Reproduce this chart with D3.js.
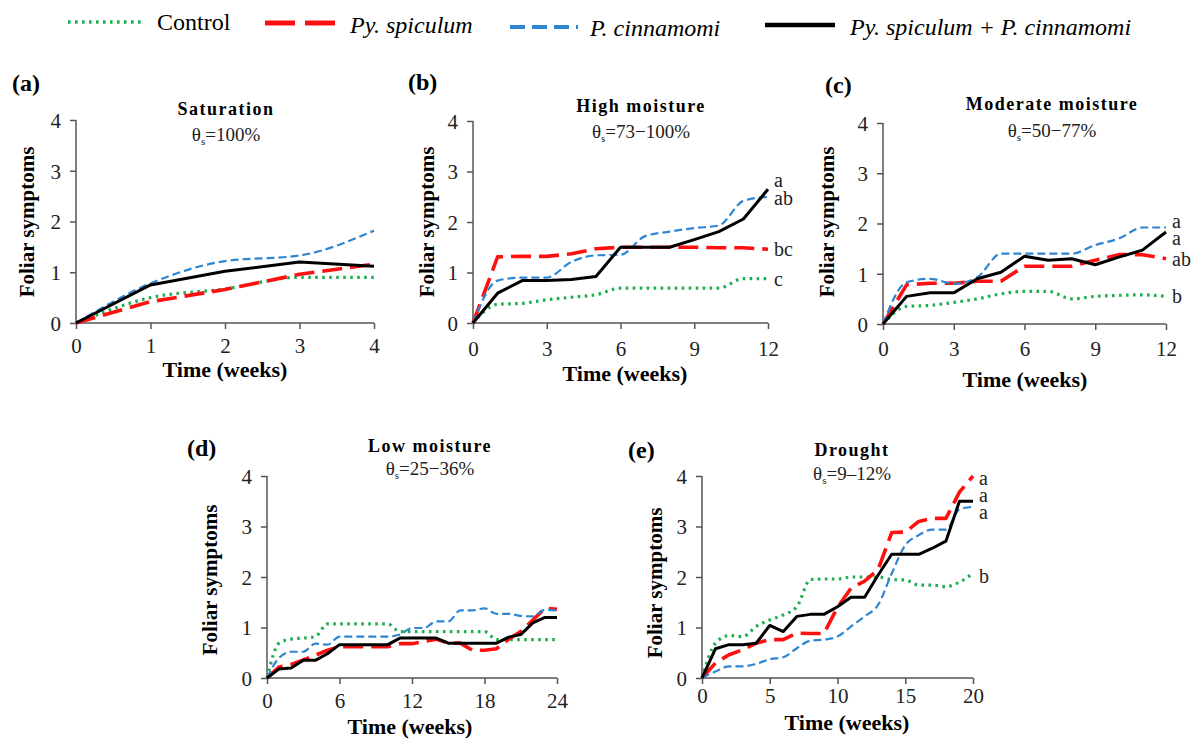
<!DOCTYPE html>
<html><head><meta charset="utf-8">
<script src="https://cdn.jsdelivr.net/npm/d3@7"></script>
<style>body{margin:0;background:#fff}</style>
</head><body>
<svg id="chart" width="1195" height="740"></svg>
<script>
// ---------- DATA ----------
const seriesNames = ["Control", "Py. spiculum", "P. cinnamomi", "Py. spiculum + P. cinnamomi"];
const yTicks = [0, 1, 2, 3, 4];

// (a) Saturation
const weeksA = [0, 1, 2, 3, 4];
const controlA   = [0, 0.50, 0.67, 0.90, 0.90];
const spiculumA  = [0, 0.42, 0.66, 0.96, 1.16];
const cinnamomiA = [0, 0.78, 1.22, 1.33, 1.82];
const comboA     = [0, 0.75, 1.02, 1.20, 1.12];
const xTicksA = [0, 1, 2, 3, 4];

// (b) High moisture
const weeksB = [0, 1, 2, 3, 4, 5, 6, 7, 8, 9, 10, 11, 12];
const controlB   = [0, 0.37, 0.39, 0.46, 0.51, 0.56, 0.69, 0.69, 0.69, 0.69, 0.69, 0.88, 0.88];
const spiculumB  = [0, 1.31, 1.32, 1.32, 1.37, 1.47, 1.50, 1.50, 1.50, 1.50, 1.49, 1.49, 1.46];
const cinnamomiB = [0, 0.84, 0.90, 0.90, 1.21, 1.34, 1.35, 1.72, 1.81, 1.88, 1.93, 2.42, 2.50];
const comboB     = [0, 0.59, 0.84, 0.84, 0.86, 0.92, 1.50, 1.50, 1.50, 1.65, 1.81, 2.06, 2.65];
const xTicksB = [0, 3, 6, 9, 12];
const lettersB = ["a", "ab", "bc", "c"];
const letterYB = [2.82, 2.46, 1.46, 0.85];

// (c) Moderate moisture
const weeksC = [0, 1, 2, 3, 4, 5, 6, 7, 8, 9, 10, 11, 12];
const controlC   = [0, 0.35, 0.37, 0.43, 0.50, 0.60, 0.65, 0.65, 0.50, 0.55, 0.57, 0.58, 0.55];
const spiculumC  = [0, 0.78, 0.81, 0.81, 0.85, 0.85, 1.15, 1.15, 1.15, 1.27, 1.38, 1.38, 1.30];
const cinnamomiC = [0, 0.83, 0.90, 0.80, 0.93, 1.40, 1.40, 1.40, 1.40, 1.57, 1.70, 1.92, 1.92];
const comboC     = [0, 0.55, 0.62, 0.62, 0.90, 1.03, 1.35, 1.27, 1.30, 1.18, 1.33, 1.47, 1.83];
const xTicksC = [0, 3, 6, 9, 12];
const lettersC = ["a", "a", "ab", "b"];
const letterYC = [2.03, 1.70, 1.28, 0.55];

// (d) Low moisture
const weeksD = [0, 1, 2, 3, 4, 5, 6, 7, 8, 9, 10, 11, 12, 13, 14, 15, 16, 17, 18, 19, 20, 21, 22, 23, 24];
const controlD   = [0, 0.69, 0.77, 0.79, 0.82, 1.07, 1.07, 1.07, 1.07, 1.07, 1.07, 0.92, 0.92, 0.92, 0.92, 0.92, 0.92, 0.92, 0.92, 0.76, 0.76, 0.76, 0.76, 0.76, 0.76];
const spiculumD  = [0, 0.22, 0.27, 0.36, 0.45, 0.55, 0.62, 0.62, 0.62, 0.62, 0.62, 0.68, 0.68, 0.72, 0.77, 0.69, 0.69, 0.55, 0.55, 0.58, 0.77, 0.92, 1.15, 1.38, 1.36];
const cinnamomiD = [0, 0.40, 0.52, 0.52, 0.68, 0.66, 0.82, 0.82, 0.82, 0.82, 0.82, 0.86, 0.99, 0.99, 1.12, 1.12, 1.34, 1.34, 1.38, 1.27, 1.27, 1.23, 1.22, 1.35, 1.34];
const comboD     = [0, 0.18, 0.20, 0.35, 0.35, 0.48, 0.66, 0.66, 0.66, 0.66, 0.66, 0.79, 0.79, 0.79, 0.79, 0.69, 0.69, 0.69, 0.69, 0.69, 0.81, 0.86, 1.09, 1.20, 1.20];
const xTicksD = [0, 6, 12, 18, 24];

// (e) Drought
const weeksE = [0, 1, 2, 3, 4, 5, 6, 7, 8, 9, 10, 11, 12, 13, 14, 15, 16, 17, 18, 19, 20];
const controlE   = [0, 0.69, 0.84, 0.82, 1.02, 1.15, 1.25, 1.41, 1.95, 1.96, 1.96, 2.00, 2.00, 2.00, 1.95, 1.94, 1.84, 1.84, 1.81, 1.90, 2.07];
const spiculumE  = [0, 0.30, 0.46, 0.56, 0.69, 0.76, 0.76, 0.89, 0.88, 0.88, 1.40, 1.78, 1.92, 2.15, 2.88, 2.89, 3.10, 3.16, 3.16, 3.68, 4.00];
const cinnamomiE = [0, 0.13, 0.23, 0.23, 0.28, 0.37, 0.41, 0.59, 0.74, 0.76, 0.82, 1.02, 1.22, 1.45, 2.07, 2.63, 2.83, 2.94, 2.94, 3.34, 3.39];
const comboE     = [0, 0.58, 0.66, 0.66, 0.69, 1.04, 0.92, 1.22, 1.26, 1.26, 1.41, 1.60, 1.60, 2.04, 2.45, 2.45, 2.45, 2.57, 2.71, 3.50, 3.50];
const xTicksE = [0, 5, 10, 15, 20];
const lettersE = ["a", "a", "a", "b"];
const letterYE = [3.94, 3.61, 3.27, 2.00];

// ---------- STYLES ----------
const styles = [
  {color: "#1fae4f", width: 3.2, dash: "2.6,4.4", curve: d3.curveMonotoneX, lw: 3.4, ldash: "2.6,4.4"},
  {color: "#ff1010", width: 3.6, dash: "20,8", curve: d3.curveLinear, lw: 5, ldash: "30,10"},
  {color: "#2e85d2", width: 2.2, dash: "8,4", curve: d3.curveMonotoneX, lw: 4, ldash: "15,7"},
  {color: "#000000", width: 3, dash: null, curve: d3.curveLinear, lw: 4.5, ldash: null}
];
const serif = "'Liberation Serif', 'Times New Roman', serif";
const axisColor = "#555";

const panels = [
  {lab: "(a)", weeks: weeksA, data: [controlA, spiculumA, cinnamomiA, comboA], xTicks: xTicksA,
   left: 76, right: 374, y0: 323, y4: 120, labX: 12, labY: 91,
   title: "Saturation", theta: "=100%", tX: 226, tY: 115, thY: 141,
   ylX: 27, ylY: 222, xlX: 225, xlY: 377, tickY: 353, letters: null},
  {lab: "(b)", weeks: weeksB, data: [controlB, spiculumB, cinnamomiB, comboB], xTicks: xTicksB,
   left: 473, right: 768, y0: 323, y4: 121, labX: 408, labY: 90,
   title: "High moisture", theta: "=73\u2212100%", tX: 641, tY: 112, thY: 138,
   ylX: 427, ylY: 222, xlX: 625, xlY: 381, tickY: 356, letters: lettersB, letterY: letterYB},
  {lab: "(c)", weeks: weeksC, data: [controlC, spiculumC, cinnamomiC, comboC], xTicks: xTicksC,
   left: 883, right: 1166, y0: 324, y4: 123, labX: 825, labY: 93,
   title: "Moderate moisture", theta: "=50\u221277%", tX: 1052, tY: 110, thY: 137,
   ylX: 827, ylY: 222, xlX: 1025, xlY: 387, tickY: 356, letters: lettersC, letterY: letterYC},
  {lab: "(d)", weeks: weeksD, data: [controlD, spiculumD, cinnamomiD, comboD], xTicks: xTicksD,
   left: 267, right: 557, y0: 678, y4: 476, labX: 187, labY: 456,
   title: "Low moisture", theta: "=25\u221236%", tX: 430, tY: 452, thY: 475,
   ylX: 210, ylY: 580, xlX: 410, xlY: 734, tickY: 708, letters: null},
  {lab: "(e)", weeks: weeksE, data: [controlE, spiculumE, cinnamomiE, comboE], xTicks: xTicksE,
   left: 702, right: 973, y0: 678, y4: 476, labX: 628, labY: 458,
   title: "Drought", theta: "=9\u201312%", tX: 852, tY: 456, thY: 480,
   ylX: 655, ylY: 583, xlX: 847, xlY: 730, tickY: 703, letters: lettersE, letterY: letterYE}
];

const svg = d3.select("#chart");
svg.append("rect").attr("width", 1195).attr("height", 740).attr("fill", "#fff");

// ---------- LEGEND ----------
const legendItems = [
  {x1: 68, x2: 143, y: 22, tx: 157, ty: 30, italic: false},
  {x1: 265, x2: 337, y: 23, tx: 350, ty: 33, italic: true},
  {x1: 510, x2: 578, y: 27, tx: 590, ty: 36, italic: true},
  {x1: 765, x2: 835, y: 25, tx: 850, ty: 35, italic: true}
];
legendItems.forEach((it, i) => {
  const s = styles[i];
  svg.append("line").attr("x1", it.x1).attr("x2", it.x2).attr("y1", it.y).attr("y2", it.y)
    .attr("stroke", s.color).attr("stroke-width", s.lw).attr("stroke-dasharray", s.ldash);
  svg.append("text").attr("x", it.tx).attr("y", it.ty).attr("font-family", serif)
    .attr("font-size", 24).attr("font-style", it.italic ? "italic" : "normal")
    .text(seriesNames[i]);
});

// ---------- PANELS ----------
panels.forEach(p => {
  const x = d3.scaleLinear().domain([p.weeks[0], p.weeks[p.weeks.length - 1]]).range([p.left, p.right]);
  const y = d3.scaleLinear().domain([0, 4]).range([p.y0, p.y4]);
  const g = svg.append("g");

  // axes
  const xAxis = g.append("g").attr("transform", `translate(0,${p.y0})`)
    .call(d3.axisBottom(x).tickValues(p.xTicks).tickSize(6).tickFormat(d3.format("d")));
  const yAxis = g.append("g").attr("transform", `translate(${p.left},0)`)
    .call(d3.axisLeft(y).tickValues(yTicks).tickSize(6).tickFormat(d3.format("d")));
  [xAxis, yAxis].forEach(a => {
    a.attr("font-family", serif).attr("font-size", 21);
    a.selectAll("path,line").attr("stroke", axisColor).attr("stroke-width", 1.5);
    a.select(".domain").attr("d", null);
    a.selectAll("text").attr("font-family", serif).attr("font-size", 21).attr("fill", "#222");
  });
  xAxis.append("line").attr("x1", p.left).attr("x2", p.right).attr("stroke", axisColor).attr("stroke-width", 1.5);
  yAxis.append("line").attr("y1", p.y0).attr("y2", p.y4).attr("stroke", axisColor).attr("stroke-width", 1.5);
  xAxis.selectAll(".tick text").attr("y", null).attr("dy", null)
    .attr("transform", `translate(0,${p.tickY - p.y0})`);
  yAxis.selectAll(".tick text").attr("x", -15).attr("dy", "0.35em");

  // lines
  p.data.forEach((vals, i) => {
    const s = styles[i];
    const line = d3.line().x((d, j) => x(p.weeks[j])).y(d => y(d)).curve(s.curve);
    g.append("path").datum(vals).attr("d", line).attr("fill", "none")
      .attr("stroke", s.color).attr("stroke-width", s.width)
      .attr("stroke-dasharray", s.dash).attr("stroke-linejoin", "round");
  });

  // significance letters
  if (p.letters) {
    p.letters.forEach((l, i) => {
      g.append("text").attr("x", p.right + 6).attr("y", y(p.letterY[i])).attr("dy", "0.32em")
        .attr("font-family", serif).attr("font-size", 20).attr("fill", "#222").text(l);
    });
  }

  // panel label
  g.append("text").attr("x", p.labX).attr("y", p.labY).attr("font-family", serif)
    .attr("font-weight", "bold").attr("font-size", 24).text(p.lab);
  // title
  g.append("text").attr("x", p.tX).attr("y", p.tY).attr("text-anchor", "middle")
    .attr("font-family", serif).attr("font-weight", "bold").attr("font-size", 18)
    .attr("letter-spacing", 1.5).text(p.title);
  const th = g.append("text").attr("x", p.tX).attr("y", p.thY).attr("text-anchor", "middle")
    .attr("font-family", serif).attr("font-size", 19).attr("fill", "#222");
  th.append("tspan").text("\u03b8");
  th.append("tspan").attr("font-size", 11).attr("dy", 4).text("s");
  th.append("tspan").attr("dy", -4).text(p.theta);
  // y label
  g.append("text").attr("transform", `translate(${p.ylX},${p.ylY}) rotate(-90)`)
    .attr("text-anchor", "middle").attr("dy", "0.35em").attr("font-family", serif)
    .attr("font-weight", "bold").attr("font-size", 21).text("Foliar symptoms");
  // x label
  g.append("text").attr("x", p.xlX).attr("y", p.xlY).attr("text-anchor", "middle")
    .attr("font-family", serif).attr("font-weight", "bold").attr("font-size", 22).text("Time (weeks)");
});
</script>
</body></html>
